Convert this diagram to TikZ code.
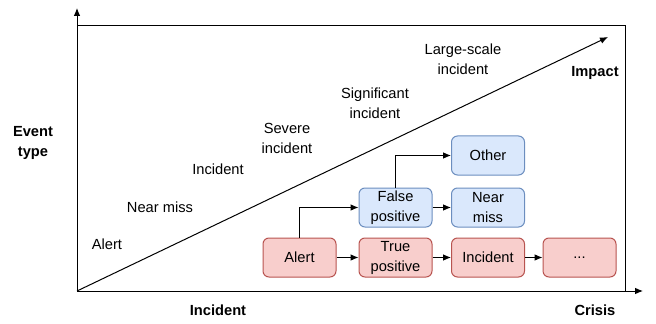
\documentclass[tikz,border=0pt]{standalone}
\usepackage{fontspec}
\setmainfont{Liberation Sans}
\usetikzlibrary{arrows.meta}

\tikzset{every picture/.style={line width=0.75pt}}
\tikzset{
  redbox/.style={draw={rgb, 255:red, 184; green, 84; blue, 80 }, fill={rgb, 255:red, 248; green, 206; blue, 204 }, rounded corners=4.5pt, minimum width=54.75pt, minimum height=29.25pt, align=center, inner sep=0.75pt},
  bluebox/.style={draw={rgb, 255:red, 108; green, 142; blue, 191 }, fill={rgb, 255:red, 218; green, 232; blue, 252 }, rounded corners=4.5pt, minimum width=54.75pt, minimum height=29.25pt, align=center, inner sep=0.75pt},
  flow/.style={-{Latex[length=6pt,width=5pt]}},
  lbl/.style={align=center, inner sep=0.75pt}
}

\begin{document}
\begin{tikzpicture}[x=0.75pt,y=0.75pt,yscale=-1,xscale=1,font=\fontsize{11}{15}\selectfont]
\useasboundingbox (0,0) rectangle (656,324); %set diagram size

%Shape: Rectangle [frame]
\draw (77,26) rectangle (625,291) ;
%Axes
\coordinate (origin) at (77,291);
\coordinate (ytip) at (77,8);
\coordinate (xtip) at (643,291);
\coordinate (ditip) at (608,37);
\draw [flow] (origin) -- (ytip) ;
\draw [flow] (origin) -- (xtip) ;
\draw [flow] (origin) -- (ditip) ;

% Text Node
\node (evtype) [lbl] at (33,143) {\textbf{Event}\\\textbf{type}};
% Text Node
\node (xleft) [lbl] at (218,310) {\textbf{Incident}};
% Text Node
\node (xright) [lbl] at (595,310) {\textbf{Crisis}};
% Text Node
\node (impact) [lbl] at (595,73) {\textbf{Impact}};

% Text Node
\node (lvla) [lbl] at (107,244) {Alert};
% Text Node
\node (lvlb) [lbl] at (160,207) {Near miss};
% Text Node
\node (lvlc) [lbl] at (218,169) {Incident};
% Text Node
\node (lvld) [lbl] at (287,138) {Severe\\incident};
% Text Node
\node (lvle) [lbl] at (375,103) {Significant\\incident};
% Text Node
\node (lvlf) [lbl] at (463,59) {Large-scale\\incident};

%Shape: Rounded Rect
\node (alert) [redbox] at (299.5,257.5) {Alert};
\node (tp) [redbox] at (395.5,257.5) {True\\positive};
\node (inc) [redbox] at (488,257.5) {Incident};
\node (more) [redbox] at (579.5,257.5) {...};
\node (fp) [bluebox] at (395.5,207.5) {False\\positive};
\node (nm) [bluebox] at (488,207.5) {Near\\miss};
\node (other) [bluebox] at (488,155.5) {Other};

%Connectors
\draw [flow] (alert) -- (tp) ;
\draw [flow] (tp) -- (inc) ;
\draw [flow] (inc) -- (more) ;
\draw [flow] (fp) -- (nm) ;
\draw [flow] (alert.north) |- (fp.west) ;
\draw [flow] (fp.north) |- (other.west) ;

\end{tikzpicture}
\end{document}
